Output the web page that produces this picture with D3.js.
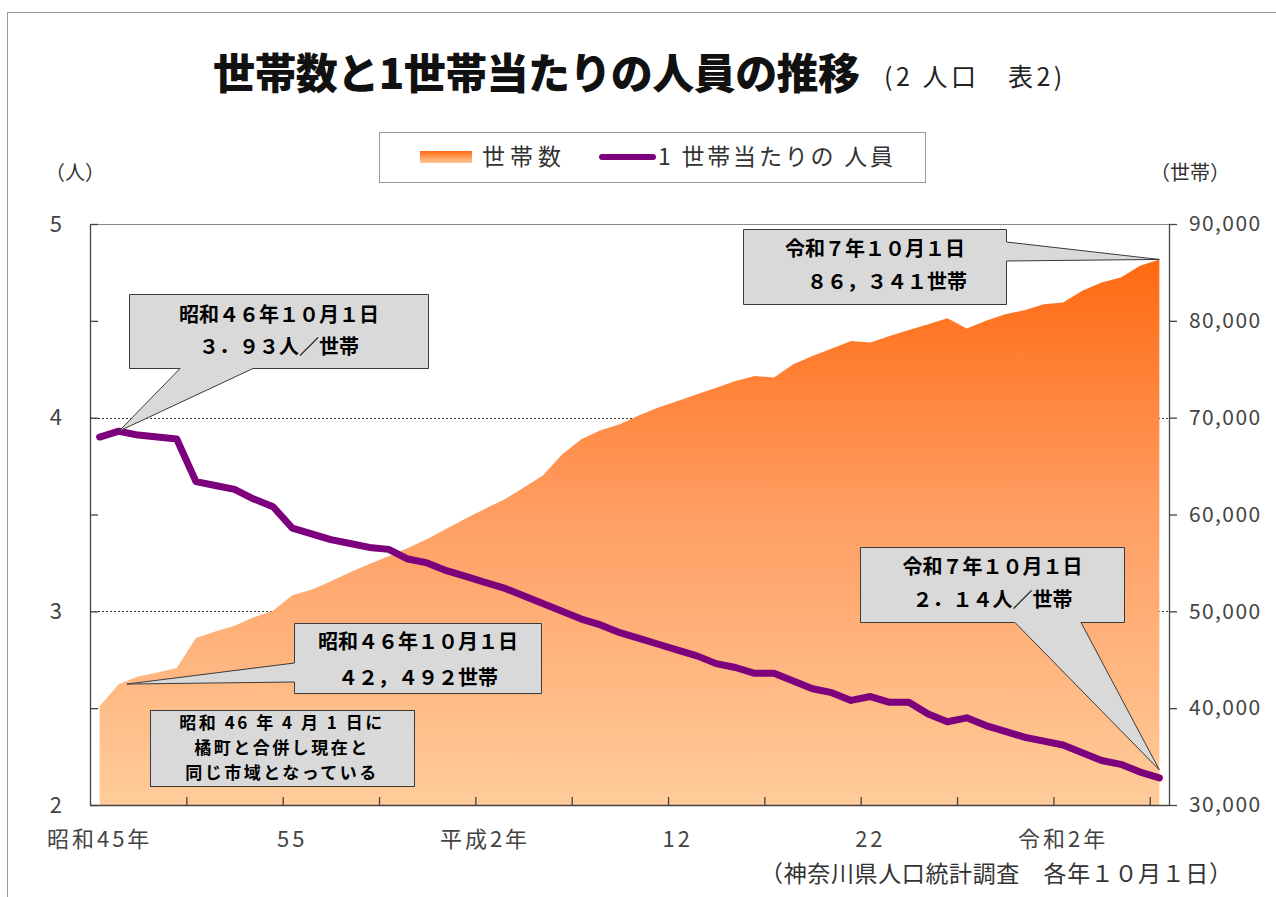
<!DOCTYPE html>
<html>
<head>
<meta charset="utf-8">
<script src="https://cdn.jsdelivr.net/npm/d3@7"></script>
<style>
  body { margin: 0; background: #fff; }
  svg text { font-family: "Noto Sans CJK JP", "Noto Sans", sans-serif; text-spacing-trim: space-all; }
</style>
</head>
<body>
<div id="chart"></div>
<script>
// ========================================
// Data
// ========================================
const years = d3.range(1970, 2026);          // 昭和45年 .. 令和7年, one per category

// 世帯数 (households)
const households = [
  40200, 42492, 43270, 43690, 44140, 47240, 47930, 48520, 49380, 50070,
  51650, 52240, 53100, 54030, 54880, 55690, 56550, 57480, 58520, 59580,
  60590, 61550, 62760, 64030, 66200, 67760, 68690, 69310, 70250, 71040,
  71720, 72410, 73100, 73790, 74300, 74140, 75510, 76370, 77140, 77920,
  77760, 78440, 79050, 79650, 80270, 79210, 80000, 80690, 81100, 81720,
  81900, 83100, 83960, 84480, 85680, 86341
];

// 1世帯当たりの人員 (persons per household)
const persons = [
  3.90, 3.93, 3.91, 3.90, 3.89, 3.67, 3.65, 3.63, 3.58, 3.54,
  3.43, 3.40, 3.37, 3.35, 3.33, 3.32, 3.27, 3.25, 3.21, 3.18,
  3.15, 3.12, 3.08, 3.04, 3.00, 2.96, 2.93, 2.89, 2.86, 2.83,
  2.80, 2.77, 2.73, 2.71, 2.68, 2.68, 2.64, 2.60, 2.58, 2.54,
  2.56, 2.53, 2.53, 2.47, 2.43, 2.45, 2.41, 2.38, 2.35, 2.33,
  2.31, 2.27, 2.23, 2.21, 2.17, 2.14
];

const xTickYears  = [1975, 1980, 1985, 1990, 1995, 2000, 2005, 2010, 2015, 2020, 2025]; // category boundaries
const xLabelYears = [1970, 1980, 1990, 2000, 2010, 2020];
const xLabels     = ['昭和45年', '55', '平成2年', '12', '22', '令和2年'];
const leftTicks   = [2, 2.5, 3, 3.5, 4, 4.5, 5];
const rightTicks  = [30000, 40000, 50000, 60000, 70000, 80000, 90000];
const gridValues  = [3, 4];

// ========================================
// Layout
// ========================================
const width = 1276, height = 897;
const plot = { left: 90, right: 1169, top: 224, bottom: 805 };
const purple = '#7d007d';

const svg = d3.select('#chart').append('svg')
  .attr('width', width)
  .attr('height', height);

const defs = svg.append('defs');
const grad = defs.append('linearGradient')
  .attr('id', 'areaGrad')
  .attr('gradientUnits', 'userSpaceOnUse')
  .attr('x1', 0).attr('x2', 0)
  .attr('y1', plot.top).attr('y2', plot.bottom);
grad.append('stop').attr('offset', 0).attr('stop-color', '#ff6205');
grad.append('stop').attr('offset', 0.5).attr('stop-color', '#ff9e63');
grad.append('stop').attr('offset', 1).attr('stop-color', '#ffcc9a');

const legGrad = defs.append('linearGradient')
  .attr('id', 'legGrad')
  .attr('x1', 0).attr('x2', 0).attr('y1', 0).attr('y2', 1);
legGrad.append('stop').attr('offset', 0).attr('stop-color', '#ff6a10');
legGrad.append('stop').attr('offset', 1).attr('stop-color', '#ffc898');

// outer frame
svg.append('rect')
  .attr('x', 7.5).attr('y', 12.5)
  .attr('width', 1400).attr('height', 1000)
  .attr('fill', 'none').attr('stroke', '#9a9a9a');

// ========================================
// Title
// ========================================
svg.append('text')
  .attr('x', 213).attr('y', 89)
  .attr('font-size', 42).attr('font-weight', 900)
  .attr('textLength', 647)
  .attr('fill', '#111')
  .text('世帯数と1世帯当たりの人員の推移');

svg.append('text')
  .attr('x', 884).attr('y', 86)
  .attr('font-size', 25)
  .attr('letter-spacing', 3.5)
  .attr('fill', '#222')
  .text('(2 人口　表2)');

// ========================================
// Legend
// ========================================
const legend = svg.append('g');
legend.append('rect')
  .attr('x', 379.5).attr('y', 132.5).attr('width', 546).attr('height', 50)
  .attr('fill', '#fff').attr('stroke', '#9a9a9a');
legend.append('rect')
  .attr('x', 420).attr('y', 151).attr('width', 52).attr('height', 12)
  .attr('fill', 'url(#legGrad)');
legend.append('text')
  .attr('x', 482).attr('y', 165).attr('font-size', 23)
  .attr('textLength', 79).attr('fill', '#333')
  .text('世帯数');
legend.append('line')
  .attr('x1', 602).attr('x2', 653).attr('y1', 157).attr('y2', 157)
  .attr('stroke', purple).attr('stroke-width', 6).attr('stroke-linecap', 'round');
legend.append('text')
  .attr('x', 658).attr('y', 165).attr('font-size', 23)
  .attr('textLength', 235).attr('fill', '#333')
  .text('1 世帯当たりの 人員');

// unit labels
svg.append('text')
  .attr('x', 45).attr('y', 180).attr('font-size', 20)
  .attr('fill', '#333')
  .text('（人）');
svg.append('text')
  .attr('x', 1150).attr('y', 180).attr('font-size', 20)
  .attr('fill', '#333')
  .text('（世帯）');

// ========================================
// Scales
// ========================================
const x = d3.scaleBand().domain(years).range([plot.left, plot.right]);
const xc = d => x(d) + x.bandwidth() / 2;
const xEdge = d3.scaleLinear().domain([1970, 2026]).range([plot.left, plot.right]);
const yL = d3.scaleLinear().domain([2, 5]).range([plot.bottom, plot.top]);
const yR = d3.scaleLinear().domain([30000, 90000]).range([plot.bottom, plot.top]);

// top border of plot
svg.append('line')
  .attr('x1', plot.left).attr('x2', plot.right)
  .attr('y1', plot.top + 0.5).attr('y2', plot.top + 0.5)
  .attr('stroke', '#8a8a8a');

// dotted gridlines (behind the area)
svg.append('g')
  .selectAll('line')
  .data(gridValues)
  .join('line')
    .attr('x1', plot.left).attr('x2', plot.right)
    .attr('y1', d => Math.round(yL(d)) + 0.5).attr('y2', d => Math.round(yL(d)) + 0.5)
    .attr('stroke', '#333').attr('stroke-dasharray', '2,2');

// ========================================
// Area: 世帯数
// ========================================
const area = d3.area()
  .x((d, i) => xc(years[i]))
  .y0(yR(30000))
  .y1(d => yR(d));

svg.append('path')
  .datum(households)
  .attr('d', area)
  .attr('fill', 'url(#areaGrad)');

// ========================================
// Axes
// ========================================
const axisColor = '#444';
const styleAxis = g => {
  g.selectAll('.domain').attr('stroke', axisColor).attr('stroke-width', 1.3);
  g.selectAll('.tick line').attr('stroke', axisColor).attr('stroke-width', 1.3);
  g.selectAll('.tick text').attr('fill', '#444').attr('font-size', 22)
    .attr('font-family', '"Noto Sans CJK JP", sans-serif');
};

svg.append('g')
  .attr('transform', `translate(${plot.left},0)`)
  .call(d3.axisLeft(yL).tickValues(leftTicks).tickSize(-8).tickSizeOuter(0).tickPadding(28)
    .tickFormat(d => Number.isInteger(d) ? d : ''))
  .call(styleAxis);

svg.append('g')
  .attr('transform', `translate(${plot.right},0)`)
  .call(d3.axisRight(yR).tickValues(rightTicks).tickSize(8).tickSizeOuter(0).tickPadding(12)
    .tickFormat(d3.format(',')))
  .call(styleAxis)
  .call(g => g.selectAll('.tick text').attr('font-family', '"Liberation Sans", Arial, sans-serif')
    .attr('font-size', 21).attr('letter-spacing', 1.4));

svg.append('g')
  .attr('transform', `translate(0,${plot.bottom})`)
  .call(d3.axisBottom(xEdge).tickValues(xTickYears).tickSize(-8).tickSizeOuter(0).tickFormat(''))
  .call(styleAxis);

svg.append('g')
  .attr('transform', `translate(0,${plot.bottom})`)
  .call(d3.axisBottom(x).tickValues(xLabelYears).tickSize(0).tickPadding(26)
    .tickFormat((d, i) => xLabels[i]))
  .call(styleAxis)
  .call(g => g.select('.domain').remove())
  .call(g => g.selectAll('.tick text').attr('letter-spacing', 3));

// ========================================
// Line: 1世帯当たりの人員
// ========================================
const line = d3.line()
  .x((d, i) => xc(years[i]))
  .y(d => yL(d));

svg.append('path')
  .datum(persons)
  .attr('d', line)
  .attr('fill', 'none')
  .attr('stroke', purple)
  .attr('stroke-width', 7)
  .attr('stroke-linejoin', 'round')
  .attr('stroke-linecap', 'round');

// ========================================
// Callouts
// ========================================
function callout(o) {
  const [x0, y0, x1, y1] = o.box;
  const [a, b] = o.base;
  const [tx, ty] = o.tip;
  let d;
  if (o.side === 'bottom') {
    d = `M${x0},${y0}H${x1}V${y1}H${b}L${tx},${ty}L${a},${y1}H${x0}Z`;
  } else if (o.side === 'left') {
    d = `M${x0},${y0}H${x1}V${y1}H${x0}V${b}L${tx},${ty}L${x0},${a}Z`;
  } else {
    d = `M${x0},${y0}H${x1}V${a}L${tx},${ty}L${x1},${b}V${y1}H${x0}Z`;
  }
  const g = svg.append('g');
  g.append('path')
    .attr('d', d)
    .attr('fill', '#d9d9d9')
    .attr('stroke', '#3a3a3a')
    .attr('stroke-width', 1);
  g.selectAll('text')
    .data(o.lines)
    .join('text')
      .attr('x', l => (x0 + x1) / 2 + (l.dx || 0))
      .attr('y', l => l.y)
      .attr('text-anchor', 'middle')
      .attr('font-size', o.size || 20)
      .attr('font-weight', 700)
      .attr('fill', '#000')
      .text(l => l.t);
}

callout({
  box: [129.5, 294.5, 428.5, 368.5], side: 'bottom', base: [180, 253],
  tip: [xc(years[1]), yL(persons[1])],
  lines: [{ t: '昭和４６年１０月１日', y: 322 }, { t: '３．９３人／世帯', y: 354 }]
});

callout({
  box: [294.5, 623.5, 541.5, 693.5], side: 'left', base: [663, 682],
  tip: [xc(years[1]) + 8, yR(households[1])],
  lines: [{ t: '昭和４６年１０月１日', y: 649 }, { t: '４２，４９２世帯', y: 685 }]
});

callout({
  box: [743.5, 229.5, 1006.5, 304.5], side: 'right', base: [242, 261],
  tip: [xc(years[55]), yR(households[55])],
  lines: [{ t: '令和７年１０月１日', y: 256 }, { t: '８６，３４１世帯', y: 289, dx: 12 }]
});

callout({
  box: [860.5, 547.5, 1124.5, 622.5], side: 'bottom', base: [1015, 1081],
  tip: [xc(years[55]), yL(persons[55]) - 8],
  lines: [{ t: '令和７年１０月１日', y: 574 }, { t: '２．１４人／世帯', y: 607 }]
});

// merger note box
const note = svg.append('g');
note.append('rect')
  .attr('x', 150.5).attr('y', 710.5).attr('width', 264).attr('height', 76)
  .attr('fill', '#d9d9d9').attr('stroke', '#3a3a3a');
note.selectAll('text')
  .data(['昭和 46 年 4 月 1 日に', '橘町と合併し現在と', '同じ市域となっている'])
  .join('text')
    .attr('x', 282)
    .attr('y', (d, i) => 729 + i * 24.8)
    .attr('text-anchor', 'middle')
    .attr('font-size', 17)
    .attr('font-weight', 700)
    .attr('letter-spacing', 2.5)
    .attr('fill', '#000')
    .text(d => d);

// ========================================
// Source
// ========================================
svg.append('text')
  .attr('x', 1232).attr('y', 882)
  .attr('text-anchor', 'end')
  .attr('font-size', 23)
  .attr('textLength', 472)
  .attr('fill', '#333')
  .text('（神奈川県人口統計調査　各年１０月１日）');
</script>
</body>
</html>
